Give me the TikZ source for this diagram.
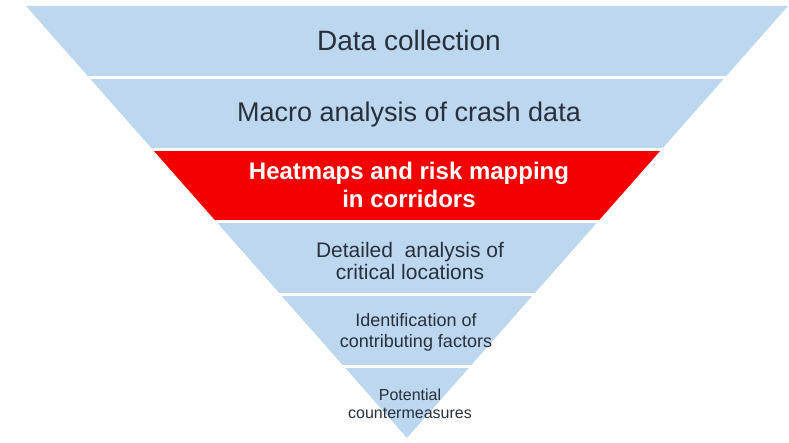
\documentclass[tikz,border=0pt]{standalone}
\usepackage{fontspec}
\setmainfont{Liberation Sans}
\usepackage{tikz}
\definecolor{funnelblue}{HTML}{BDD7EE}
\definecolor{funnelred}{HTML}{F40000}
\definecolor{funneltext}{HTML}{27303C}
\begin{document}
\begin{tikzpicture}[line cap=round,line join=round,x=1pt,y=1pt,
  band/.style={fill=funnelblue},
  hotband/.style={fill=funnelred},
  gap/.style={draw=white,line width=3pt,line cap=butt},
  lbl/.style={text=funneltext,align=center,inner sep=0pt}]
\useasboundingbox (0,0) rectangle (789,442);
\fill [band] (26,436)-- (788,436)-- (724.5,364)-- (89.5,364)-- cycle;
\fill [band] (89.5,364)-- (724.5,364)-- (661,292)-- (153,292)-- cycle;
\fill [hotband] (153,292)-- (661,292)-- (597.5,220)-- (216.5,220)-- cycle;
\fill [band] (216.5,220)-- (597.5,220)-- (534,148)-- (280,148)-- cycle;
\fill [band] (280,148)-- (534,148)-- (470.5,76)-- (343.5,76)-- cycle;
\fill [band] (343.5,76)-- (470.5,76)-- (407,4)-- cycle;
\draw [gap] (80,364)-- (735,364);
\draw [gap] (145,292)-- (670,292);
\draw [gap] (208,220)-- (606,220);
\draw [gap] (272,148)-- (542,148);
\draw [gap] (335,76)-- (479,76);
\node [lbl,font=\fontsize{28}{32}\selectfont] (collect) at (409,402) {Data collection};
\node [lbl,font=\fontsize{27}{31}\selectfont] (macro) at (409,327) {Macro analysis of crash data};
\node [lbl,text=white,font=\bfseries\fontsize{24}{28}\selectfont] (heat) at (409,257) {Heatmaps and risk mapping\\in corridors};
\node [lbl,font=\fontsize{21}{22}\selectfont] (detail) at (410,181) {Detailed\ \ analysis of\\critical locations};
\node [lbl,font=\fontsize{18}{21}\selectfont] (factors) at (416,109.5) {Identification of\\contributing factors};
\node [lbl,font=\fontsize{16}{18}\selectfont] (counter) at (410,38) {Potential\\countermeasures};
\end{tikzpicture}
\end{document}
